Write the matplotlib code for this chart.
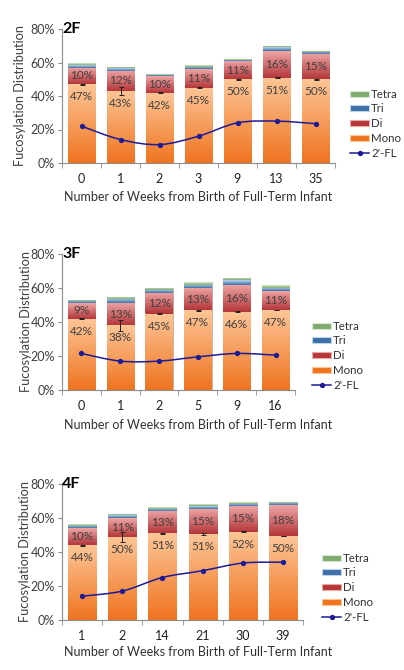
import matplotlib
matplotlib.use("Agg")
import matplotlib.pyplot as plt
import numpy as np
from matplotlib.path import Path
from matplotlib.patches import PathPatch, Patch
from matplotlib.lines import Line2D
from matplotlib.colors import LinearSegmentedColormap

plt.rcParams["font.family"] = ["Lato", "DejaVu Sans"]

# ---- data (percent) ----
weeks_2f = ["0", "1", "2", "3", "9", "13", "35"]
mono_2f = [47, 43, 42, 45, 50, 51, 50]
di_2f = [10, 12, 10, 11, 11, 16, 15]
tri_2f = [1.5, 1.5, 0.8, 1.5, 0.7, 2.0, 1.2]
tetra_2f = [1.0, 1.0, 0.5, 0.8, 0.5, 1.0, 0.8]
fl_2f = [22, 14, 11, 16, 24, 25, 23.5]
err_2f = [0.3, 2.5, 0.3, 0.4, 0.2, 0.2, 0.2]

weeks_3f = ["0", "1", "2", "5", "9", "16"]
mono_3f = [42, 38, 45, 47, 46, 47]
di_3f = [9, 13, 12, 13, 16, 11]
tri_3f = [1.2, 2.5, 1.8, 2.0, 2.5, 2.0]
tetra_3f = [0.8, 1.5, 1.2, 1.5, 1.5, 1.5]
fl_3f = [21.5, 17, 17, 19.5, 21.5, 20.5]
err_3f = [0.3, 3.0, 0.3, 0.3, 0.3, 0.2]

weeks_4f = ["1", "2", "14", "21", "30", "39"]
mono_4f = [44, 49, 51, 50.5, 52, 49.5]
mono_lbl_4f = [44, 50, 51, 51, 52, 50]
di_4f = [10, 11, 13, 15, 15, 18]
tri_4f = [1.5, 1.5, 1.5, 1.5, 1.5, 1.2]
tetra_4f = [1.0, 1.0, 1.0, 1.0, 1.0, 0.8]
fl_4f = [14, 17, 25, 29, 33.5, 34]
err_4f = [0.3, 3.0, 0.3, 0.4, 0.3, 0.2]

series_names = ["Mono", "Di", "Tri", "Tetra"]
grad = {
    "Mono": ("#fdc596", "#ef7420"),
    "Di": ("#eda5a5", "#b5373a"),
    "Tri": ("#b8d4ee", "#3f6fa6"),
    "Tetra": ("#d6eacf", "#7fa96f"),
}
line_color = "#1c1c96"
text_color = "#404040"
axis_color = "#8c8c8c"


def smooth_path(xs, ys):
    # Excel-like smoothed line as cubic Bezier segments through the points
    pts = np.column_stack([xs, ys]).astype(float)
    n = len(pts)
    verts = [pts[0]]
    codes = [Path.MOVETO]
    for i in range(n - 1):
        p0 = pts[i - 1] if i > 0 else pts[i]
        p1, p2 = pts[i], pts[i + 1]
        p3 = pts[i + 2] if i + 2 < n else pts[i + 1]
        c1 = p1 + (p2 - p0) / 6.0
        c2 = p2 - (p3 - p1) / 6.0
        verts += [c1, c2, p2]
        codes += [Path.CURVE4] * 3
    return Path(verts, codes)


def draw_panel(fig, rect, tag, weeks, mono, di, tri, tetra, fl, err,
               mono_lbl, legend_xy):
    ax = fig.add_axes(rect)
    x = np.arange(len(weeks))
    bottoms = np.zeros(len(weeks))
    vals = {"Mono": mono, "Di": di, "Tri": tri, "Tetra": tetra}
    for name in series_names:
        v = np.array(vals[name], dtype=float)
        bars = ax.bar(x, v, width=0.7, bottom=bottoms, color=grad[name][1],
                      edgecolor="#b0b0b0", linewidth=0.4, zorder=2)
        cmap = LinearSegmentedColormap.from_list(name, [grad[name][1], grad[name][0]])
        for b in bars:
            x0, y0 = b.get_x(), b.get_y()
            w, h = b.get_width(), b.get_height()
            im = ax.imshow(np.linspace(0, 1, 64).reshape(-1, 1), cmap=cmap,
                           extent=[x0, x0 + w, y0, y0 + h], origin="lower",
                           aspect="auto", zorder=2.1, interpolation="bilinear")
            im.set_clip_path(b)
        bottoms = bottoms + v

    mono_arr = np.array(mono, dtype=float)
    ax.errorbar(x, mono_arr, yerr=err, fmt="none", ecolor="#202020",
                elinewidth=0.7, capsize=1.8, capthick=0.7, zorder=3)

    for i in range(len(weeks)):
        ax.annotate(f"{mono_lbl[i]}%", (x[i], mono_arr[i]), xytext=(0, -9),
                    textcoords="offset points", ha="center", va="center",
                    fontsize=8.5, color=text_color, zorder=4)
        ax.text(x[i], mono_arr[i] + di[i] / 2.0, f"{di[i]}%", ha="center",
                va="center", fontsize=8.5, color=text_color, zorder=4)

    path = smooth_path(x, fl)
    ax.add_patch(PathPatch(path, facecolor="none", edgecolor=line_color,
                           linewidth=1.1, zorder=5))
    ax.plot(x, fl, "o", color=line_color, markersize=2.8, zorder=6)

    ax.set_xlim(-0.5, len(weeks) - 0.5)
    ax.set_ylim(0, 80)
    ax.set_yticks([0, 20, 40, 60, 80])
    ax.set_yticklabels(["0%", "20%", "40%", "60%", "80%"])
    ax.set_xticks(x)
    ax.set_xticklabels(weeks)
    ax.set_xticks(np.arange(-0.5, len(weeks)), minor=True)
    ax.tick_params(axis="x", which="major", length=0, pad=7,
                   labelsize=9, labelcolor="#202020")
    ax.tick_params(axis="x", which="minor", length=3.5, color=axis_color)
    ax.tick_params(axis="y", length=3, color=axis_color, pad=2,
                   labelsize=9, labelcolor="#404040")
    for s in ["top", "right"]:
        ax.spines[s].set_visible(False)
    for s in ["left", "bottom"]:
        ax.spines[s].set_color(axis_color)
        ax.spines[s].set_linewidth(0.8)

    ax.text(0.0, 1.0, tag, transform=ax.transAxes, fontsize=11.5,
            fontweight="bold", ha="left", va="center", color="black")
    ax.text(-0.155, 0.5, "Fucosylation Distribution", transform=ax.transAxes,
            rotation=90, ha="center", va="center", fontsize=9.2, color="#404040")

    handles = [Patch(facecolor=grad[n][1], edgecolor=grad[n][0], linewidth=0.8)
               for n in ["Tetra", "Tri", "Di", "Mono"]]
    handles.append(Line2D([], [], color=line_color, marker="o", markersize=2.8,
                          linewidth=1.1))
    fig.legend(handles, ["Tetra", "Tri", "Di", "Mono", "2'-FL"],
               loc="upper left", bbox_to_anchor=legend_xy, frameon=False,
               fontsize=8.3, handlelength=1.7, handleheight=0.45,
               handletextpad=0.15, labelspacing=0.32, borderpad=0,
               labelcolor="#303030")
    return ax


W, H = 404, 670
fig = plt.figure(figsize=(W / 100, H / 100), dpi=100)


def frac(x0, y_top, x1, y_bot):
    return [x0 / W, 1 - y_bot / H, (x1 - x0) / W, (y_bot - y_top) / H]


draw_panel(fig, frac(62, 29, 335, 163), "2F", weeks_2f, mono_2f, di_2f,
           tri_2f, tetra_2f, fl_2f, err_2f, mono_2f, (344 / W, 1 - 83 / H))
draw_panel(fig, frac(62, 254, 295, 390), "3F", weeks_3f, mono_3f, di_3f,
           tri_3f, tetra_3f, fl_3f, err_3f, mono_3f, (306 / W, 1 - 315 / H))
draw_panel(fig, frac(62, 484, 303, 620), "4F", weeks_4f, mono_4f, di_4f,
           tri_4f, tetra_4f, fl_4f, err_4f, mono_lbl_4f, (316 / W, 1 - 547 / H))

xlabel = "Number of Weeks from Birth of Full-Term Infant"
for yy in [197, 425, 652]:
    fig.text(198 / W, 1 - yy / H, xlabel, ha="center", va="center",
             fontsize=9, color="#303030")

fig.savefig("out.png", dpi=100)
